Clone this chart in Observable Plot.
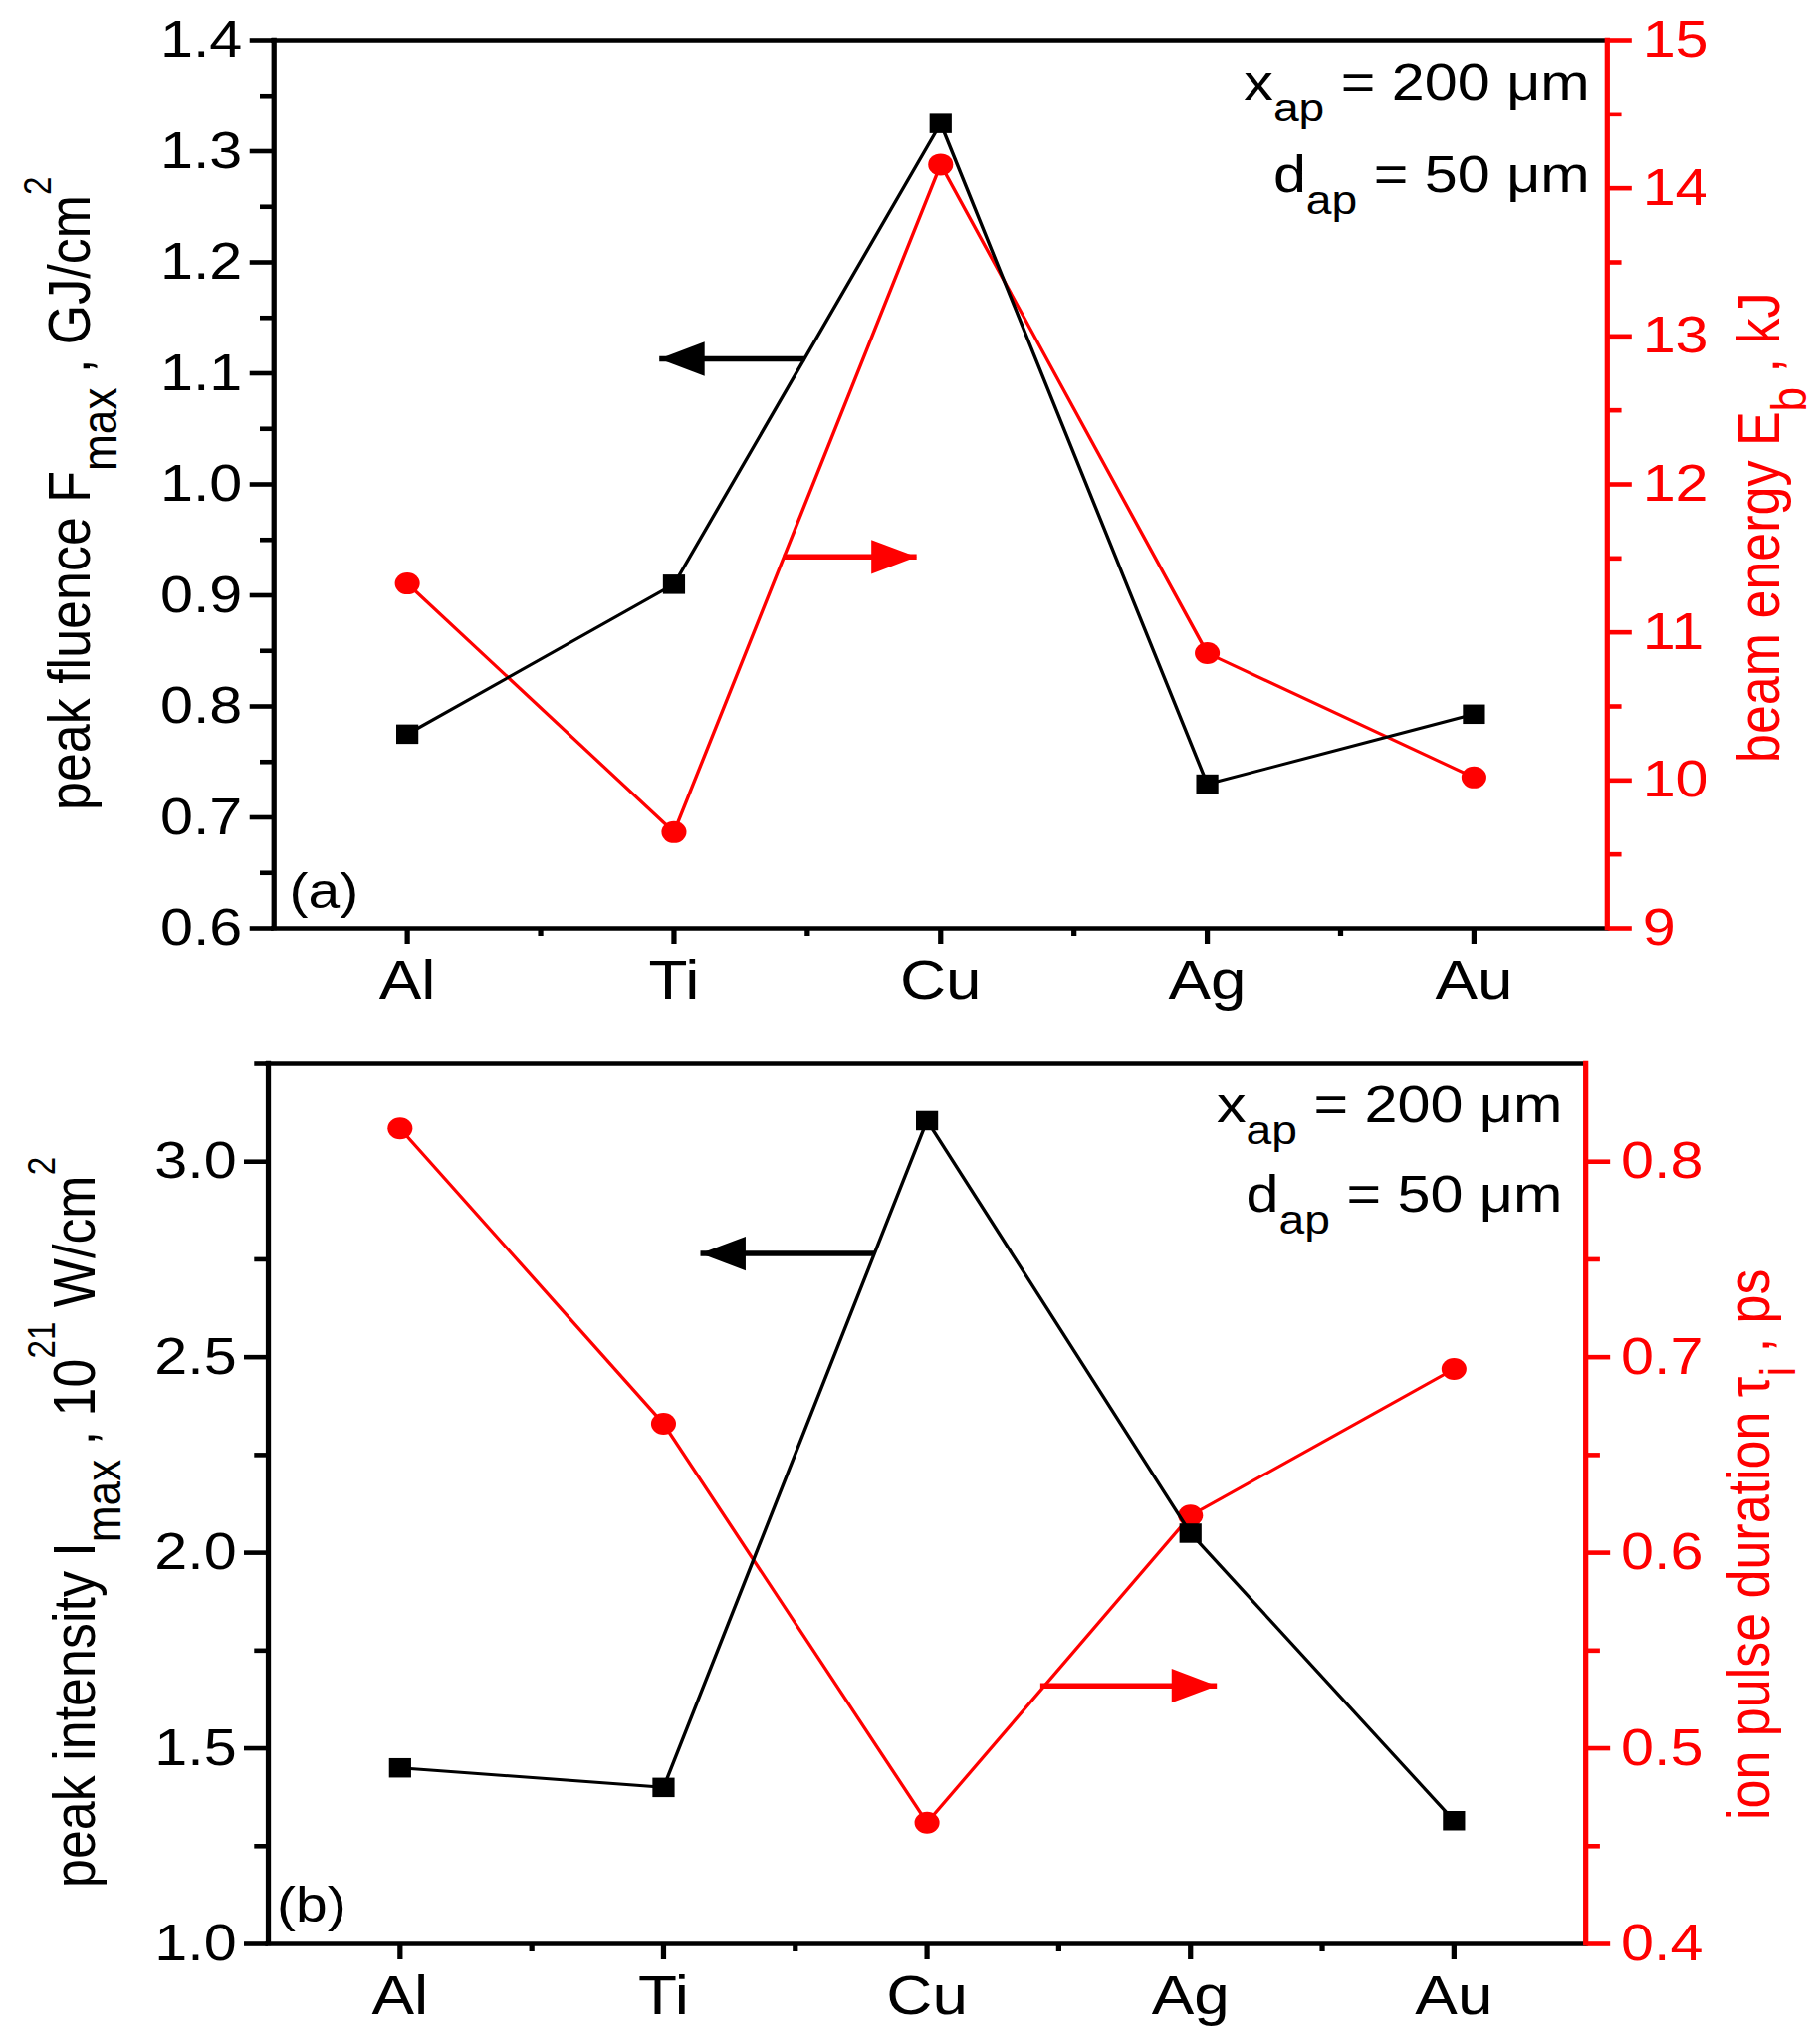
<!DOCTYPE html>
<html>
<head>
<meta charset="utf-8">
<script src="https://cdn.jsdelivr.net/npm/d3@7"></script>
<script src="https://cdn.jsdelivr.net/npm/@observablehq/plot@0.6"></script>
<style>
  body { margin: 0; background: #fff; }
  #chart svg { display: block; }
  #chart text { white-space: pre; }
</style>
</head>
<body>
<div id="chart"></div>
<script>
// metals on the x axis
const categories = ["Al", "Ti", "Cu", "Ag", "Au"];

// (a) peak fluence (GJ/cm^2, left) and beam energy (kJ, right)
const fluence = [0.775, 0.91, 1.325, 0.73, 0.793];
const beamEnergy = [11.33, 9.65, 14.16, 10.86, 10.02];
const fluenceTicks = [0.6, 0.7, 0.8, 0.9, 1.0, 1.1, 1.2, 1.3, 1.4];
const fluenceMinor = [0.65, 0.75, 0.85, 0.95, 1.05, 1.15, 1.25, 1.35];
const energyTicks = [9, 10, 11, 12, 13, 14, 15];
const energyMinor = [9.5, 10.5, 11.5, 12.5, 13.5, 14.5];

// (b) peak intensity (10^21 W/cm^2, left) and ion pulse duration (ps, right)
const intensity = [1.45, 1.40, 3.105, 2.05, 1.315];
const pulseDuration = [0.817, 0.666, 0.462, 0.619, 0.694];
const intensityTicks = [1.0, 1.5, 2.0, 2.5, 3.0];
const intensityMinor = [1.25, 1.75, 2.25, 2.75, 3.25];
const durationTicks = [0.4, 0.5, 0.6, 0.7, 0.8];
const durationMinor = [0.45, 0.55, 0.65, 0.75];

// arrows pointing to the axis of each curve (x in category units)
const arrowsA = [
  {x1: 2.49, x2: 1.945, y: 1.113, side: "left"},
  {x1: 2.41, x2: 2.91, y: 11.51, side: "right"}
];
const arrowsB = [
  {x1: 2.80, x2: 2.14, y: 2.765, side: "left"},
  {x1: 3.43, x2: 4.10, y: 0.532, side: "right"}
];

const RED = "#ff0000";
const FONT = "'Liberation Sans', Arial, Helvetica, sans-serif";
// the original picture is stretched sideways; draw narrower and stretch the svg
const W = 1604;

const arrowHead = {
  draw(context, size) {
    const l = Math.sqrt(size);
    context.moveTo(0, 0);
    context.lineTo(-l, -0.43 * l);
    context.lineTo(-l, 0.43 * l);
    context.closePath();
  }
};

function rich(svg, parts, {x, y, rotate = 0, anchor = "start", size = 52, fill = "black",
                           subScale = 0.85, subShift = 0.45, supScale = 0.64, supShift = 0.66}) {
  const text = d3.select(svg).append("text")
    .attr("transform", `translate(${x},${y})` + (rotate ? ` rotate(${rotate})` : ""))
    .attr("text-anchor", anchor)
    .attr("font-family", FONT)
    .attr("font-size", size)
    .attr("fill", fill);
  let shift = 0;
  for (const [s, kind] of parts) {
    const target = kind === "sub" ? subShift * size : kind === "sup" ? -supShift * size : 0;
    text.append("tspan")
      .attr("dy", target - shift)
      .attr("font-size", kind === "sub" ? size * subScale : kind === "sup" ? size * supScale : size)
      .text(s);
    shift = target;
  }
}

function panel(cfg) {
  const toLeft = d3.scaleLinear(cfg.y2Domain, cfg.yDomain);
  const pts = categories.map((c, i) => ({x: i + 1, left: cfg.left[i], right: toLeft(cfg.right[i])}));
  const arrowMarks = cfg.arrows.flatMap(a => {
    const color = a.side === "right" ? RED : "black";
    const yy = a.side === "right" ? toLeft(a.y) : a.y;
    const d = [{x1: a.x1, x2: a.x2, y: yy}];
    return [
      Plot.link(d, {x1: "x1", x2: "x2", y1: "y", y2: "y", stroke: color, strokeWidth: 5.5}),
      Plot.dot(d, {x: "x2", y: "y", symbol: arrowHead, r: 22.5, fill: color, stroke: "none",
                   rotate: a.x2 < a.x1 ? 180 : 0})
    ];
  });

  const svg = Plot.plot({
    width: W,
    height: cfg.height,
    marginLeft: cfg.marginLeft,
    marginRight: cfg.marginRight,
    marginTop: cfg.marginTop,
    marginBottom: cfg.marginBottom,
    x: {type: "linear", domain: [0.5, 5.5]},
    y: {type: "linear", domain: cfg.yDomain},
    style: {fontFamily: FONT, background: "white", color: "black", overflow: "visible"},
    marks: [
      Plot.ruleY([cfg.yDomain[1]], {stroke: "black", strokeWidth: 4.6, strokeLinecap: "square"}),
      Plot.ruleY([cfg.yDomain[0]], {stroke: "black", strokeWidth: 4.6, strokeLinecap: "square"}),
      Plot.ruleX([0.5], {stroke: "black", strokeWidth: 4.6, strokeLinecap: "square"}),
      Plot.ruleX([5.5], {stroke: RED, strokeWidth: 4.6, strokeLinecap: "square"}),
      Plot.axisY(cfg.yTicks, {anchor: "left", tickSize: 21, tickPadding: 7, strokeWidth: 4.6,
                              fontSize: 52, tickFormat: d3.format(".1f"), label: null}),
      Plot.axisY(cfg.yMinor, {anchor: "left", tickSize: 12, strokeWidth: 4.6, fill: "none", label: null}),
      Plot.axisY(cfg.y2Ticks.map(toLeft), {anchor: "right", tickSize: 21, tickPadding: 10, strokeWidth: 4.6,
                              stroke: RED, fill: RED, fontSize: 52,
                              tickFormat: d => cfg.y2Format(toLeft.invert(d)), label: null}),
      Plot.axisY(cfg.y2Minor.map(toLeft), {anchor: "right", tickSize: 12, strokeWidth: 4.6,
                              stroke: RED, fill: "none", label: null}),
      Plot.axisX([1, 2, 3, 4, 5], {tickSize: 16, tickPadding: 15, strokeWidth: 4.6, fontSize: 56,
                              tickFormat: d => categories[d - 1], label: null}),
      Plot.axisX([1.5, 2.5, 3.5, 4.5], {tickSize: 8, strokeWidth: 4.6, fill: "none", label: null}),
      Plot.line(pts, {x: "x", y: "right", stroke: RED, strokeWidth: 3}),
      Plot.dot(pts, {x: "x", y: "right", symbol: "circle", r: 11, fill: RED, stroke: "none"}),
      Plot.line(pts, {x: "x", y: "left", stroke: "black", strokeWidth: 3}),
      Plot.dot(pts, {x: "x", y: "left", symbol: "square", r: 11, fill: "black", stroke: "none"}),
      ...arrowMarks
    ]
  });

  rich(svg, cfg.leftTitle, {x: cfg.leftTitleX, y: cfg.leftTitleY, rotate: -90});
  rich(svg, cfg.rightTitle, {x: cfg.rightTitleX, y: cfg.rightTitleY, rotate: -90, fill: RED});
  cfg.notes.forEach((n, i) => rich(svg, n, {x: cfg.noteX, y: cfg.noteY[i], anchor: "end", size: 52,
                                           subScale: 0.78, subShift: 0.43}));
  rich(svg, [[cfg.tag]], {x: cfg.tagX, y: cfg.tagY, size: 50});

  svg.setAttribute("viewBox", `0 0 ${W} ${cfg.height}`);
  svg.setAttribute("preserveAspectRatio", "none");
  svg.setAttribute("width", 1828);
  svg.setAttribute("height", cfg.height);
  svg.style.width = "1828px";
  svg.style.height = cfg.height + "px";
  svg.style.maxWidth = "none";
  return svg;
}

const notes = [
  [["x"], ["ap", "sub"], [" = 200 μm"]],
  [["d"], ["ap", "sub"], [" = 50 μm"]]
];

const chartA = panel({
  height: 1025, marginLeft: 241, marginRight: 188, marginTop: 40, marginBottom: 93,
  yDomain: [0.6, 1.4], y2Domain: [9, 15],
  left: fluence, right: beamEnergy,
  yTicks: fluenceTicks, yMinor: fluenceMinor,
  y2Ticks: energyTicks, y2Minor: energyMinor, y2Format: d3.format(".0f"),
  arrows: arrowsA,
  leftTitle: [["peak fluence F"], ["max", "sub"], [" , GJ/cm"], ["2", "sup"]],
  leftTitleX: 79, leftTitleY: 814,
  rightTitle: [["beam energy E"], ["b", "sub"], [" , kJ"]],
  rightTitleX: 1568, rightTitleY: 766,
  notes, noteX: 1401, noteY: [100, 193],
  tag: "(a)", tagX: 255, tagY: 912
});

const chartB = panel({
  height: 1026, marginLeft: 236, marginRight: 207, marginTop: 43, marginBottom: 99,
  yDomain: [1.0, 3.25], y2Domain: [0.4, 0.85],
  left: intensity, right: pulseDuration,
  yTicks: intensityTicks, yMinor: intensityMinor,
  y2Ticks: durationTicks, y2Minor: durationMinor, y2Format: d3.format(".1f"),
  arrows: arrowsB,
  leftTitle: [["peak intensity I"], ["max", "sub"], [" , 10"], ["21", "sup"], [" W/cm"], ["2", "sup"]],
  leftTitleX: 83, leftTitleY: 871,
  rightTitle: [["ion pulse duration τ"], ["i", "sub"], [" , ps"]],
  rightTitleX: 1559, rightTitleY: 803,
  notes, noteX: 1377, noteY: [102, 192],
  tag: "(b)", tagX: 244, tagY: 905
});

d3.select("#chart").append(() => chartA);
d3.select("#chart").append(() => chartB);
</script>
</body>
</html>
